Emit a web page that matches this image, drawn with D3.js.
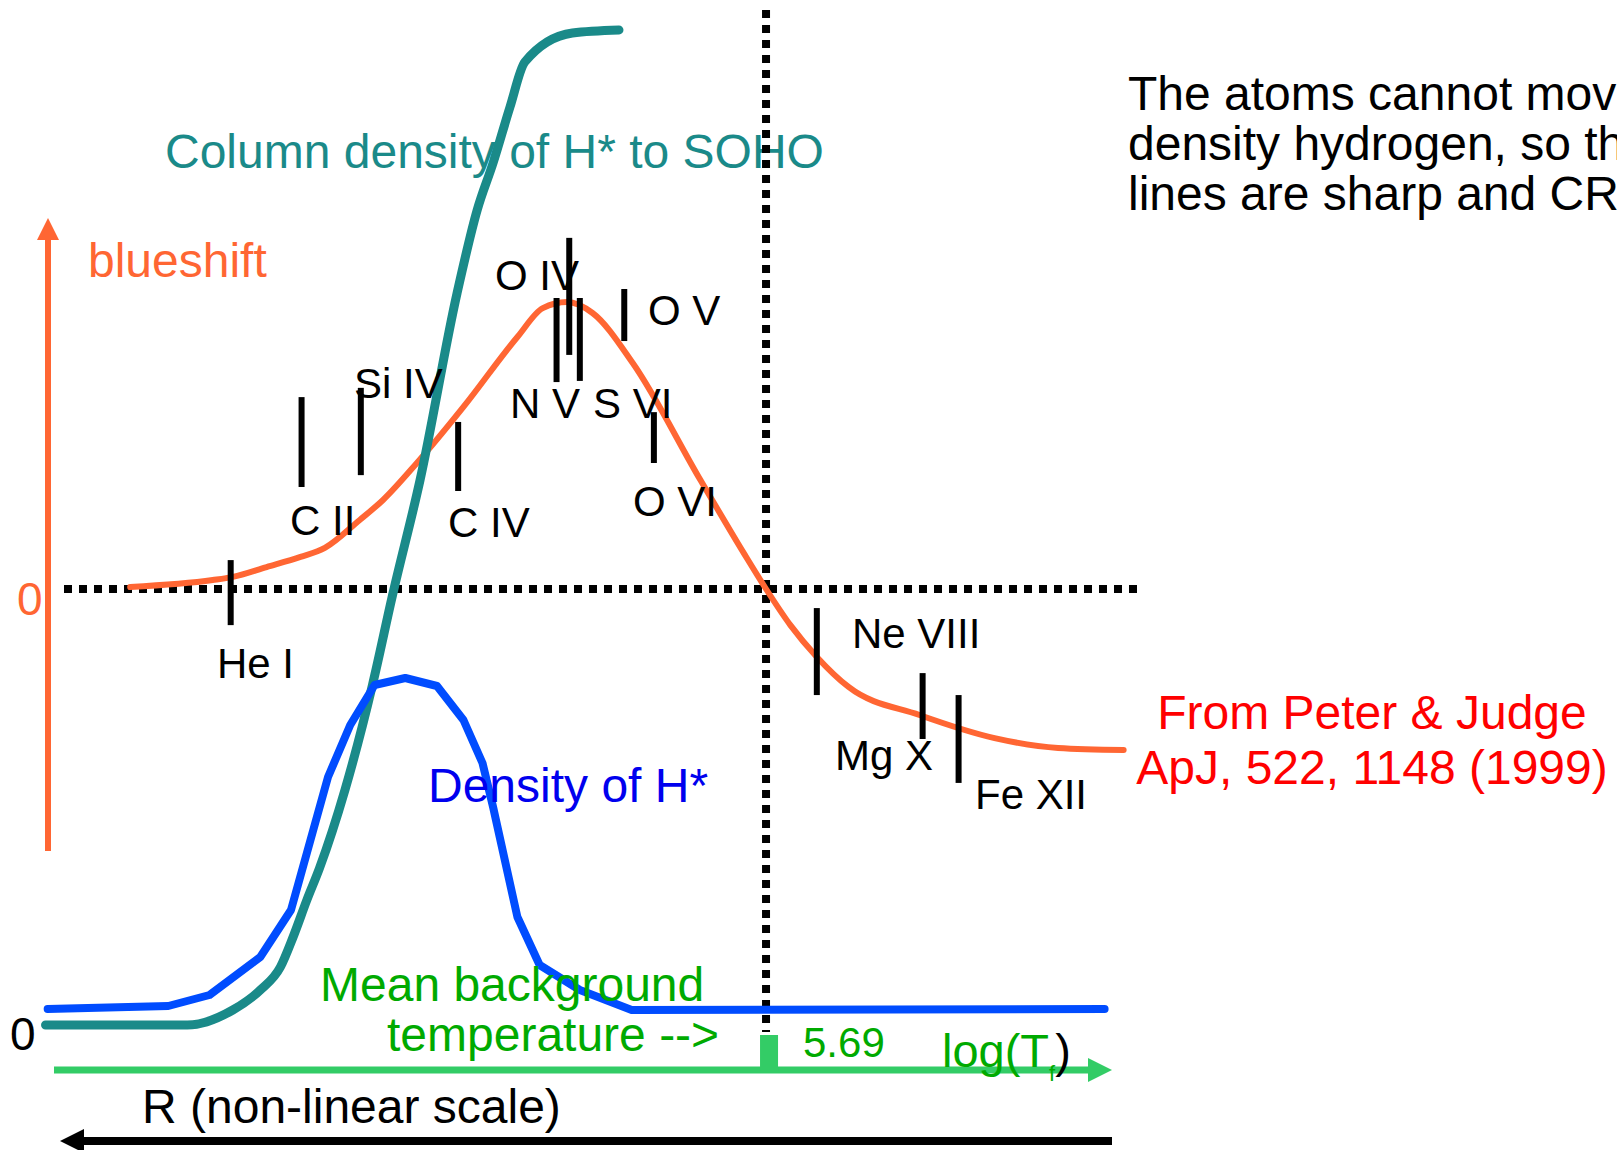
<!DOCTYPE html>
<html lang="en">
<head>
<meta charset="utf-8">
<title>H* density and line blueshifts</title>
<script src="https://cdn.jsdelivr.net/npm/d3@7"></script>
<style>
  body { margin: 0; background: #fff; }
  svg { display: block; font-family: "Liberation Sans", Arial, sans-serif; }
</style>
</head>
<body>
<script>
// position along R / log(T) is schematic: 0..100
// density curves: 0..100 (arbitrary), blueshift: 0 at the dotted line

var columnDensity = [[-0.8,0],[12.6,0],[16.9,1.5],[19.5,3.5],[21.4,5.8],[22.6,8.8],[23.9,12.5],
  [25.1,15.7],[27.5,23.5],[30.1,34],[32.0,43],[34.6,54.5],[38.1,73.2],[40.0,81.5],[41.5,86.2],
  [43.1,91.8],[44.5,96.3],[49.0,99.2],[53.4,99.5]];

var densityH = [[-0.6,1.6],[10.8,1.9],[14.7,3.0],[19.5,6.8],[22.4,11.5],[25.9,24.8],[28.0,30],
  [30.3,34],[33.2,34.7],[36.2,33.9],[38.7,30.5],[40.5,26.2],[41.5,21.8],[43.8,10.8],[45.9,6],
  [49.7,3.5],[54.6,1.5],[99.3,1.6]];

var blueshift = [[7.2,0.007],[15.0,0.031],[16.9,0.042],[20.1,0.076],[23.3,0.111],[25.6,0.142],
  [28.9,0.239],[31.1,0.308],[34.3,0.436],[38.7,0.630],[43.8,0.872],[46.2,0.972],[48.5,0.993],
  [50.9,0.955],[54.7,0.782],[61.1,0.377],[65.3,0.118],[67.3,0],[69.6,-0.125],[72.1,-0.235],
  [75.1,-0.339],[81.8,-0.436],[88.9,-0.516],[94.9,-0.550],[101.1,-0.557]];

// observed lines: position and the blueshift range of each bar
var lineNames  = ["He I","C II","Si IV","C IV","O IV","N V","S VI","O V","O VI","Ne VIII","Mg X","Fe XII"];
var linePos    = [16.7, 23.4, 29.0, 38.2, 48.7, 47.5, 49.7, 53.9, 56.7, 72.1, 82.1, 85.5];
var lineTop    = [0.100, 0.664, 0.696, 0.578, 1.215, 1.007, 1.007, 1.038, 0.612, -0.066, -0.291, -0.367];
var lineBottom = [-0.125, 0.353, 0.394, 0.339, 0.810, 0.716, 0.720, 0.858, 0.436, -0.367, -0.519, -0.671];

var tickLabel = "5.69";
var tickPos = 67.3;

var w = 1617, h = 1150;
var orange = "#ff6633", teal = "#1a8a89", blue = "#004cff", green = "#00aa00", axisGreen = "#33cc66";

var x = d3.scaleLinear().domain([0, 100]).range([54, 1112]);
var yD = d3.scaleLinear().domain([0, 100]).range([1025, 25]);
var yB = d3.scaleLinear().domain([0, 1]).range([589, 300]);

var svg = d3.select("body").append("svg")
  .attr("width", w).attr("height", h);

// column density label sits under the curve
svg.append("text").attr("x", 165).attr("y", 168)
  .attr("font-size", 48).attr("fill", teal)
  .text("Column density of H* to SOHO");

// dotted reference lines
svg.append("line")
  .attr("x1", 64).attr("x2", 1143).attr("y1", yB(0)).attr("y2", yB(0))
  .attr("stroke", "#000").attr("stroke-width", 8).attr("stroke-dasharray", "8,7");
svg.append("line")
  .attr("x1", x(tickPos)).attr("x2", x(tickPos)).attr("y1", 10).attr("y2", 1032)
  .attr("stroke", "#000").attr("stroke-width", 8).attr("stroke-dasharray", "8,7");

// blueshift axis arrow
svg.append("line").attr("x1", 48).attr("x2", 48).attr("y1", 851).attr("y2", 238)
  .attr("stroke", orange).attr("stroke-width", 6);
svg.append("path").attr("d", "M48,218 L59,240 L37,240 Z").attr("fill", orange);

// blueshift curve
svg.append("path")
  .datum(blueshift)
  .attr("d", d3.line().x(function(d) { return x(d[0]); }).y(function(d) { return yB(d[1]); })
    .curve(d3.curveMonotoneX))
  .attr("fill", "none").attr("stroke", orange).attr("stroke-width", 6)
  .attr("stroke-linecap", "round");

// column density of H*
svg.append("path")
  .datum(columnDensity)
  .attr("d", d3.line().x(function(d) { return x(d[0]); }).y(function(d) { return yD(d[1]); })
    .curve(d3.curveMonotoneX))
  .attr("fill", "none").attr("stroke", teal).attr("stroke-width", 9)
  .attr("stroke-linecap", "round");

// density of H*
svg.append("path")
  .datum(densityH)
  .attr("d", d3.line().x(function(d) { return x(d[0]); }).y(function(d) { return yD(d[1]); }))
  .attr("fill", "none").attr("stroke", blue).attr("stroke-width", 8)
  .attr("stroke-linejoin", "round").attr("stroke-linecap", "round");

// line bars
svg.selectAll("line.bar")
  .data(lineNames)
  .enter()
  .append("line")
  .attr("class", "bar")
  .attr("x1", function(d, i) { return x(linePos[i]); })
  .attr("x2", function(d, i) { return x(linePos[i]); })
  .attr("y1", function(d, i) { return yB(lineTop[i]); })
  .attr("y2", function(d, i) { return yB(lineBottom[i]); })
  .attr("stroke", "#000").attr("stroke-width", 6);

var labelAt = {
  "He I": [217, 678], "C II": [290, 535], "Si IV": [354, 398], "C IV": [448, 537],
  "O IV": [495, 290], "N V": [510, 418], "S VI": [593, 418], "O V": [648, 325],
  "O VI": [633, 516], "Ne VIII": [852, 648], "Mg X": [835, 770], "Fe XII": [975, 809]
};

svg.selectAll("text.ion")
  .data(lineNames)
  .enter()
  .append("text")
  .attr("class", "ion")
  .attr("x", function(d) { return labelAt[d][0]; })
  .attr("y", function(d) { return labelAt[d][1]; })
  .attr("font-size", 42).attr("fill", "#000")
  .text(function(d) { return d; });

// log(T) axis
svg.append("line").attr("x1", 54).attr("x2", 1092).attr("y1", 1070).attr("y2", 1070)
  .attr("stroke", axisGreen).attr("stroke-width", 7);
svg.append("path").attr("d", "M1112,1070 L1088,1058 L1088,1082 Z").attr("fill", axisGreen);
svg.append("rect").attr("x", x(tickPos) - 6).attr("y", 1035).attr("width", 18).attr("height", 36)
  .attr("fill", axisGreen);
svg.append("text").attr("x", 803).attr("y", 1057).attr("font-size", 42).attr("fill", green)
  .text(tickLabel);

var lg = svg.append("text").attr("x", 942).attr("y", 1067).attr("font-size", 47).attr("fill", green);
lg.append("tspan").text("log(T");
lg.append("tspan").attr("font-size", 22).attr("dy", 14).text("f");
lg.append("tspan").attr("dy", -14).attr("fill", "#000").text(")");

// R arrow
svg.append("line").attr("x1", 1112).attr("x2", 80).attr("y1", 1141).attr("y2", 1141)
  .attr("stroke", "#000").attr("stroke-width", 8);
svg.append("path").attr("d", "M60,1141 L84,1129 L84,1153 Z").attr("fill", "#000");

// texts
svg.append("text").attr("x", 88).attr("y", 277).attr("font-size", 48).attr("fill", orange).text("blueshift");
svg.append("text").attr("x", 17).attr("y", 615).attr("font-size", 46).attr("fill", orange).text("0");
svg.append("text").attr("x", 10).attr("y", 1050).attr("font-size", 46).attr("fill", "#000").text("0");

svg.append("text").attr("x", 428).attr("y", 802).attr("font-size", 48).attr("fill", "#0000ee").text("Density of H*");

svg.append("text").attr("x", 320).attr("y", 1001).attr("font-size", 48).attr("fill", green).text("Mean background");
svg.append("text").attr("x", 387).attr("y", 1051).attr("font-size", 48).attr("fill", green).text("temperature -->");

svg.append("text").attr("x", 142).attr("y", 1123).attr("font-size", 48).attr("fill", "#000").text("R (non-linear scale)");

svg.append("text").attr("x", 1372).attr("y", 729).attr("font-size", 48).attr("fill", "#ff0000")
  .attr("text-anchor", "middle").text("From Peter & Judge");
svg.append("text").attr("x", 1372).attr("y", 784).attr("font-size", 48).attr("fill", "#ff0000")
  .attr("text-anchor", "middle").text("ApJ, 522, 1148 (1999)");

// the reference runs this note off the right edge
var note = ["The atoms cannot move through the", "density hydrogen, so the", "lines are sharp and CRISP"];
svg.selectAll("text.note")
  .data(note)
  .enter()
  .append("text")
  .attr("class", "note")
  .attr("x", 1128)
  .attr("y", function(d, i) { return 110 + i * 50; })
  .attr("font-size", 48).attr("fill", "#000")
  .text(function(d) { return d; });
</script>
</body>
</html>
